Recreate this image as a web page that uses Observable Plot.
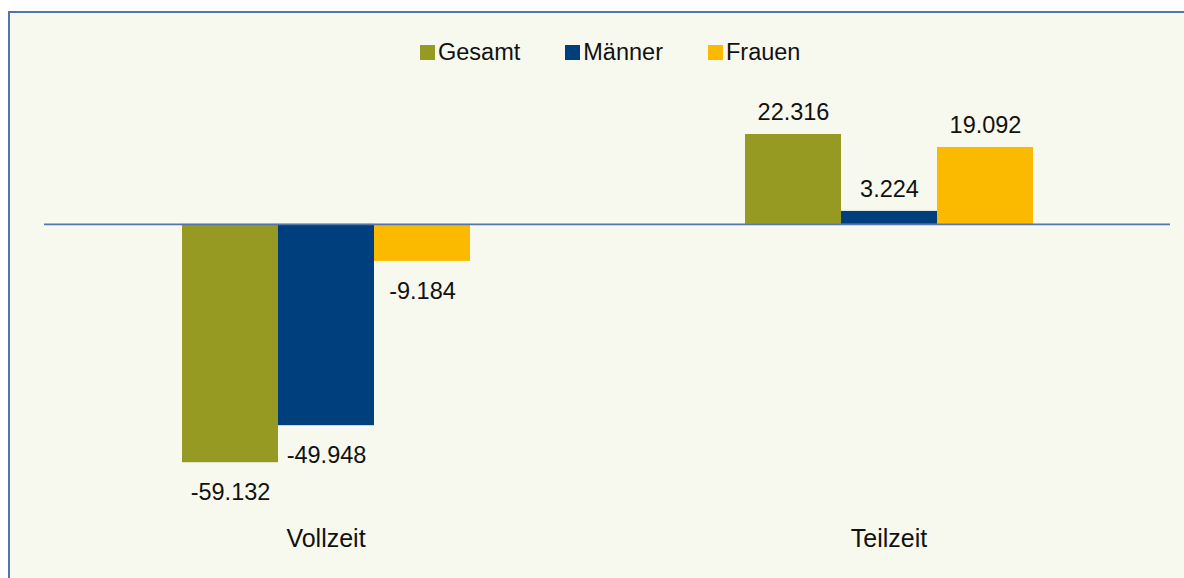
<!DOCTYPE html>
<html>
<head>
<meta charset="utf-8">
<script src="https://cdn.jsdelivr.net/npm/d3@7"></script>
<script src="https://cdn.jsdelivr.net/npm/@observablehq/plot@0.6"></script>
<style>
  html, body { margin: 0; padding: 0; background: #ffffff; width: 1184px; height: 578px; overflow: hidden; }
  #frame { position: absolute; left: 8px; top: 11px; width: 1190px; height: 600px;
           border-left: 2px solid #5474AE; border-top: 2px solid #5474AE; background: #F8F9EE; }
  #chart { position: absolute; left: 0; top: 0; }
  #legend { position: absolute; left: 420px; top: 39px; display: flex; gap: 45px;
            font-family: "Liberation Sans", Arial, sans-serif; font-size: 23.5px; color: #111; }
  .item { display: flex; align-items: center; gap: 3px; }
  .sw { width: 15px; height: 15px; display: inline-block; }
</style>
</head>
<body>
<div id="frame"></div>
<div id="chart"></div>
<div id="legend"></div>
<script>
const categories = ["Vollzeit", "Teilzeit"];
const series = ["Gesamt", "Männer", "Frauen"];
const colors = ["#979A22", "#003F7D", "#FBBA00"];
const gesamt = [-59132, 22316];
const maenner = [-49948, 3224];
const frauen = [-9184, 19092];

const seriesValues = [gesamt, maenner, frauen];
const data = [];
categories.forEach((c, i) => {
  series.forEach((s, j) => data.push({category: c, series: s, value: seriesValues[j][i]}));
});
const fmt = v => v.toLocaleString("de-DE");

const font = "Liberation Sans, Arial, sans-serif";
const chart = Plot.plot({
  width: 1184,
  height: 578,
  marginLeft: 44,
  marginRight: 14,
  marginTop: 103,
  marginBottom: 72,
  style: {background: "transparent", fontFamily: font, fontSize: "25px", color: "#111"},
  fx: {domain: categories, padding: 0, label: null, axis: "bottom", tickSize: 0, tickPadding: 23},
  x: {domain: series, paddingInner: 0, paddingOuter: 1.422, axis: null},
  y: {domain: [-70000, 30000], axis: null},
  color: {domain: series, range: colors},
  marks: [
    Plot.barY(data, {fx: "category", x: "series", y: "value", fill: "series", insetLeft: 0, insetRight: 0}),
    Plot.ruleY([0], {stroke: "#5474AE", strokeWidth: 1.6}),
    Plot.text(data.filter(d => d.value >= 0), {fx: "category", x: "series", y: "value", text: d => fmt(d.value), dy: -22, fill: "#111", fontSize: 23.5}),
    Plot.text(data.filter(d => d.value < 0), {fx: "category", x: "series", y: "value", text: d => fmt(d.value), dy: 30, fill: "#111", fontSize: 23.5})
  ]
});
document.getElementById("chart").appendChild(chart);

const legend = document.getElementById("legend");
series.forEach((s, i) => {
  const item = document.createElement("div");
  item.className = "item";
  const sw = document.createElement("span");
  sw.className = "sw";
  sw.style.background = colors[i];
  const t = document.createElement("span");
  t.textContent = s;
  item.appendChild(sw);
  item.appendChild(t);
  legend.appendChild(item);
});
</script>
</body>
</html>
